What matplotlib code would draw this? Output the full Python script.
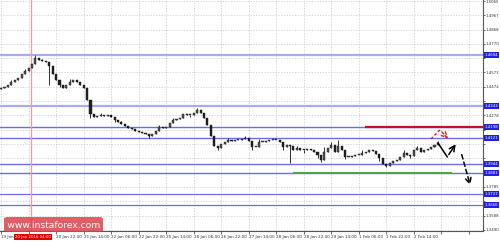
import matplotlib
matplotlib.use("Agg")
import matplotlib.pyplot as plt
import matplotlib.transforms as mtransforms
from matplotlib.patches import FancyBboxPatch

# closing prices, one per bar (bar index = position on the x axis)
closes = [1.4466, 1.4473, 1.4487, 1.4508, 1.4521, 1.4535, 1.4563, 1.4583, 1.4604, 1.4632,
          1.4673, 1.4659, 1.4652, 1.4645, 1.4618, 1.4563, 1.4521, 1.4487, 1.4466, 1.4487,
          1.4508, 1.4521, 1.4508, 1.4487, 1.4466, 1.4384, 1.4288, 1.4267, 1.4274, 1.4281,
          1.4274, 1.4281, 1.4267, 1.4246, 1.4233, 1.4219, 1.4205, 1.4191, 1.4184, 1.4171,
          1.4164, 1.4157, 1.4150, 1.4136, 1.4150, 1.4171, 1.4198, 1.4191, 1.4198, 1.4226,
          1.4246, 1.4253, 1.4260, 1.4288, 1.4281, 1.4281, 1.4294, 1.4315, 1.4294, 1.4260,
          1.4212, 1.4136, 1.4067, 1.4054, 1.4081, 1.4095, 1.4109, 1.4102, 1.4109, 1.4109,
          1.4116, 1.4122, 1.4102, 1.4061, 1.4061, 1.4095, 1.4095, 1.4102, 1.4109, 1.4109,
          1.4109, 1.4095, 1.4061, 1.4074, 1.4067, 1.4040, 1.4054, 1.4040, 1.4040, 1.4047,
          1.4040, 1.4026, 1.4006, 1.3971, 1.4026, 1.4054, 1.4074, 1.4026, 1.4067, 1.4040,
          1.3992, 1.3992, 1.3999, 1.4006, 1.4006, 1.4019, 1.4026, 1.4040, 1.4033, 1.4012,
          1.3985, 1.3944, 1.3930, 1.3950, 1.3964, 1.3971, 1.3992, 1.4019, 1.4006, 1.3999,
          1.4040, 1.4054, 1.4026, 1.4040, 1.4047, 1.4061, 1.4074, 1.4088]
first_open = 1.4460
# wicks that stick out of the bodies
wick_highs = {3: 1.4520, 7: 1.4600, 10: 1.4690, 12: 1.4668, 20: 1.4525, 25: 1.4466,
              29: 1.4296, 35: 1.4240, 46: 1.4212, 50: 1.4262, 57: 1.4330, 62: 1.4110,
              66: 1.4122, 71: 1.4135, 75: 1.4116, 86: 1.4068, 94: 1.4060, 96: 1.4095,
              98: 1.4109, 105: 1.4040, 117: 1.4040, 121: 1.4068, 127: 1.4100}
wick_lows = {5: 1.4520, 14: 1.4487, 17: 1.4470, 26: 1.4260, 33: 1.4232, 43: 1.4125,
             55: 1.4268, 63: 1.4040, 73: 1.4040, 82: 1.4040, 84: 1.3950, 88: 1.4020,
             92: 1.3985, 93: 1.3960, 100: 1.3975, 110: 1.3965, 112: 1.3920, 119: 1.3985}

# horizontal levels
levels = [1.4694, 1.4343, 1.4198, 1.4121, 1.3944, 1.3881, 1.3737, 1.3660]
level_widths = [1.6, 1.6, 1.0, 1.0, 1.0, 1.0, 0.9, 0.9]
red_level = 1.4198
red_from = 105.8
green_level = 1.3881
green_span = (84.9, 131.1)
cursor_bar = 8.7

# forecast arrows (bar index, price)
red_path_x = [125.0, 127.6, 130.5]
red_path_y = [1.4116, 1.4178, 1.4102]
black_path_x = [127.0, 129.7, 132.6]
black_path_y = [1.4088, 1.3992, 1.4095]
dashed_path_x = [133.7, 136.6]
dashed_path_y = [1.4026, 1.3779]

# axes labels
price_ticks = [1.5065, 1.4967, 1.4868, 1.4770, 1.4671, 1.4573, 1.4474, 1.4376, 1.4278,
               1.4179, 1.4081, 1.3982, 1.3884, 1.3785, 1.3687, 1.3588, 1.3490]
time_labels = ["19 Jan 2016", "20 Jan 06:00", "20 Jan 22:00", "21 Jan 14:00",
               "22 Jan 06:00", "22 Jan 22:00", "25 Jan 14:00", "26 Jan 06:00",
               "26 Jan 22:00", "27 Jan 14:00", "28 Jan 06:00", "28 Jan 22:00",
               "29 Jan 14:00", "1 Feb 06:00", "1 Feb 22:00", "2 Feb 14:00"]
cursor_label = "20 Jan 2016 04:00"
bars_per_label = 8

fig = plt.figure(figsize=(5.0, 2.42), dpi=100)
ax = fig.add_axes([0.0, 11 / 242, 483 / 500, 231 / 242])
ax.set_xlim(-0.3, 140.1)
ax.set_ylim(1.34817, 1.50719)

# grid
ax.set_xticks(list(range(0, 141, bars_per_label)))
ax.set_yticks(price_ticks)
ax.grid(True, color="#c8c8c8", linestyle=(0, (2, 2)), linewidth=0.5)
ax.set_axisbelow(True)

# levels
for lv, lw in zip(levels, level_widths):
    col = "#a9a9f5" if lw > 1.2 else "#6c6cf0"
    ax.axhline(lv, color=col, lw=lw, zorder=2)
ax.hlines(red_level, red_from, 140.1, color="#c0102a", lw=1.6, zorder=3)
ax.hlines(green_level, green_span[0], green_span[1], color="#3dae3d", lw=1.4, zorder=3)
ax.axvline(cursor_bar, color="#f29b9b", lw=0.9, zorder=2)

# candles
opens = [first_open] + closes[:-1]
for i, (o, c) in enumerate(zip(opens, closes)):
    hi = wick_highs.get(i, max(o, c))
    lo = wick_lows.get(i, min(o, c))
    ax.vlines(i, lo, hi, color="#111111", lw=0.6, zorder=4)
    ax.bar(i, max(abs(c - o), 0.0003), bottom=min(o, c), width=0.6,
           color="#222222" if c < o else "#555555", edgecolor="#111111", lw=0.3, zorder=5)

# forecast arrows
ax.plot(red_path_x[:-1], red_path_y[:-1], color="#e02020", lw=1.0, ls=(0, (2, 1.5)), zorder=6)
ax.annotate("", xy=(red_path_x[-1], red_path_y[-1]), xytext=(red_path_x[-2], red_path_y[-2]),
            arrowprops=dict(arrowstyle="->", color="#e02020", lw=1.0, ls=(0, (2, 1.5))), zorder=6)
ax.plot(black_path_x[:-1], black_path_y[:-1], color="black", lw=1.1, zorder=6)
ax.annotate("", xy=(black_path_x[-1], black_path_y[-1]), xytext=(black_path_x[-2], black_path_y[-2]),
            arrowprops=dict(arrowstyle="->", color="black", lw=1.1), zorder=6)
ax.annotate("", xy=(dashed_path_x[-1], dashed_path_y[-1]), xytext=(dashed_path_x[0], dashed_path_y[0]),
            arrowprops=dict(arrowstyle="->", color="black", lw=1.1, ls=(0, (3, 2))), zorder=6)

# axes styling
for s in ["top", "left"]:
    ax.spines[s].set_visible(False)
for s in ["right", "bottom"]:
    ax.spines[s].set_color("#555555")
    ax.spines[s].set_linewidth(0.8)
ax.yaxis.tick_right()
# tick labels hidden behind a highlighted level label are left blank
ylabels = []
for v in price_ticks:
    hidden = any(abs(v - lv) < 0.0045 for lv in levels)
    ylabels.append("" if hidden else "%.4f" % v)
ax.set_yticklabels(ylabels)
ax.tick_params(axis="y", labelsize=2.8, length=1.5, width=0.5, pad=0.6, colors="#333333")
xlabels = []
for k in range(len(ax.get_xticks())):
    if k < len(time_labels) and abs(k * bars_per_label - cursor_bar) > 4:
        xlabels.append(time_labels[k])
    else:
        xlabels.append("")
ax.set_xticklabels(xlabels)
ax.tick_params(axis="x", labelsize=3.0, length=2, width=0.5, pad=1.0, colors="#333333")
for lab in ax.get_xticklabels():
    lab.set_horizontalalignment("left")

# highlighted level labels on the price scale
ytrans = mtransforms.blended_transform_factory(ax.transAxes, ax.transData)
for lv in levels:
    ax.text(1.004, lv, "%.4f" % lv, transform=ytrans, fontsize=2.8, color="white",
            va="center", ha="left", zorder=10, clip_on=False,
            bbox=dict(boxstyle="square,pad=0.2", fc="#2020e0", ec="none"))

# cursor time label
xtrans = mtransforms.blended_transform_factory(ax.transData, ax.transAxes)
ax.text(cursor_bar + 0.6, -0.026, cursor_label, transform=xtrans, fontsize=2.8, color="white",
        va="center", ha="center", zorder=10, clip_on=False,
        bbox=dict(boxstyle="square,pad=0.2", fc="#e00000", ec="none"))

# watermark
box = FancyBboxPatch((4 / 500, 10 / 242), 99 / 500, 15 / 242,
                     boxstyle="round,pad=0.0,rounding_size=0.008",
                     transform=fig.transFigure, fc="#d9434a", ec="none", alpha=0.85, zorder=20)
fig.patches.append(box)
fig.text(53.5 / 500, 17.5 / 242, "[  www.instaforex.com  ]", fontsize=6.6, color="white",
         ha="center", va="center", zorder=21)

fig.savefig("out.png", dpi=100)
